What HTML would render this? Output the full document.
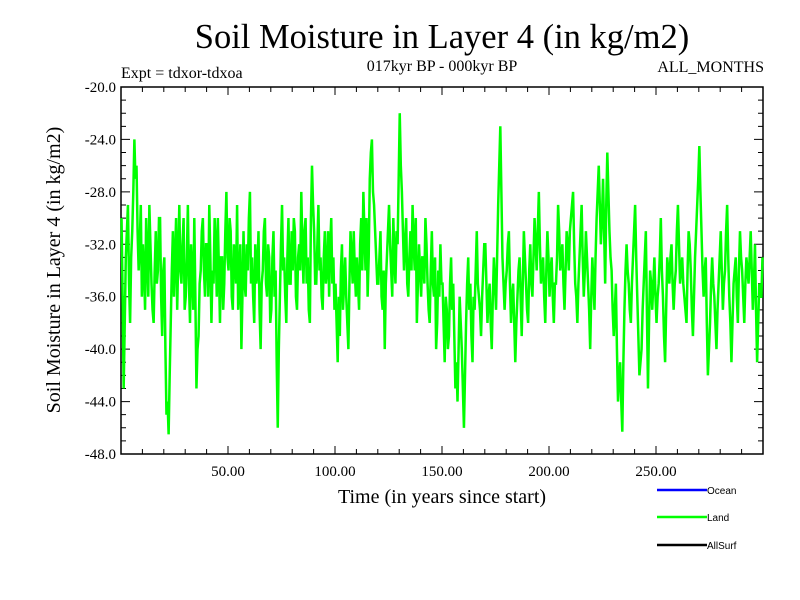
<!DOCTYPE html>
<html><head><meta charset="utf-8"><style>
body{margin:0;background:#fff;width:800px;height:600px;overflow:hidden}
svg{display:block}
.serif{font-family:"Liberation Serif",serif}
.sans{font-family:"Liberation Sans",sans-serif}
</style></head><body>
<svg id="chart" width="800" height="600" viewBox="0 0 800 600" xmlns="http://www.w3.org/2000/svg">
<text class="serif" x="442" y="48" font-size="34.5" text-anchor="middle">Soil Moisture in Layer 4 (in kg/m2)</text>
<text class="serif" x="121" y="78" font-size="16">Expt = tdxor-tdxoa</text>
<text class="serif" x="442" y="71" font-size="16" text-anchor="middle">017kyr BP - 000kyr BP</text>
<text class="serif" x="764" y="72" font-size="16" text-anchor="end">ALL_MONTHS</text>
<text class="serif" font-size="20" text-anchor="middle" transform="translate(60,270) rotate(-90)">Soil Moisture in Layer 4 (in kg/m2)</text>
<text class="serif" x="442" y="503" font-size="20" text-anchor="middle">Time (in years since start)</text>
<g id="axes"></g>
<g id="series"></g>
<g>
<line x1="657" y1="490" x2="707" y2="490" stroke="#0000ff" stroke-width="2.5"/>
<text class="sans" x="707" y="494" font-size="10">Ocean</text>
<line x1="657" y1="517" x2="707" y2="517" stroke="#00ff00" stroke-width="2.5"/>
<text class="sans" x="707" y="521" font-size="10">Land</text>
<line x1="657" y1="545" x2="707" y2="545" stroke="#000" stroke-width="2.5"/>
<text class="sans" x="707" y="549" font-size="10">AllSurf</text>
</g>
</svg>
<script>
const xTickValues=[50,100,150,200,250];
const xTickLabels=["50.00","100.00","150.00","200.00","250.00"];
const yTickValues=[-20,-24,-28,-32,-36,-40,-44,-48];
const yTickLabels=["-20.0","-24.0","-28.0","-32.0","-36.0","-40.0","-44.0","-48.0"];
// values at start of each year
const landValuesA=[
-30,-43,-33,-29,-38,-31,-24,-26,-34,-29,
-32,-37,-33,-29,-35,-38,-31,-34,-30,-39,
-33,-45,-46.5,-38,-31,-33,-37,-29,-35,-30,
-36,-29,-38,-34,-30,-43,-39,-34,-30,-36,
-32,-29,-38,-35,-32,-30,-38,-33,-35,-28,
-34,-31,-37,-33,-29,-35,-40,-31,-36,-34,
-28,-33,-38,-35,-31,-40,-34,-30,-36,-33,
-37,-31,-34,-46,-36,-29,-33,-38,-30,-35,
-34,-31,-37,-32,-28,-35,-30,-33,-38,-26,
-31,-35,-29,-33,-37,-31,-34,-36,-30,-33,
-35,-41,-39,-32,-35,-36,-40,-31,-35,-34,
-33,-37,-30,-28,-34,-36,-27,-24,-29,-33,
-35,-31,-37,-40,-33,-29,-34,-30,-35,-32,
-22,-28,-34,-30,-36,-31,-29,-34,-38,-32,
-36,-33,-30,-35,-38,-31,-36,-40,-34,-32,
-35,-41,-37,-39,-33,-35,-43,-44,-36,-40,
-46,-38,-33,-35,-41,-37,-31,-36,-39,-34,
-32,-38,-35,-40,-33,-37,-29,-23,-33,-37,
-34,-31,-38,-35,-41,-36,-33,-39,-31,-35,
-38,-32,-36,-30,-34,-28,-35,-33,-38,-31,
-36,-33,-38,-35,-29,-34,-32,-37,-31,-34,
-30,-28,-35,-38,-33,-29,-36,-31,-35,-40,
-33,-37,-30,-26,-32,-27,-35,-25,-31,-34,
-39,-35,-44,-41,-46.3,-37,-32,-35,-38,-33,
-29,-36,-42,-40,-35,-31,-43,-34,-37,-33,
-38,-35,-30,-36,-41,-33,-35,-32,-37,-34,
-29,-35,-33,-36,-38,-31,-34,-39,-33,-29,
-24.5,-31,-36,-33,-42,-38,-33,-36,-40,-35,
-31,-37,-34,-29,-36,-41,-35,-33,-38,-31,
-34,-38,-33,-35,-31,-37,-32,-41,-35,-36];
// values at mid-year
const landValuesB=[
-36,-38,-31,-35,-33,-28,-27,-31,-32,-36,
-34,-30,-36,-32,-37,-34,-35,-30,-36,-34,
-40,-44,-42,-34,-36,-30,-33,-34,-32,-37,
-33,-35,-32,-37,-36,-40,-35,-31,-34,-32,
-36,-33,-34,-30,-36,-34,-33,-37,-31,-33,
-30,-36,-32,-35,-37,-32,-36,-35,-32,-30,
-35,-36,-32,-34,-37,-35,-31,-35,-32,-38,
-33,-36,-41,-40,-32,-34,-36,-33,-35,-31,
-30,-36,-33,-34,-32,-31,-35,-37,-30,-29,
-35,-32,-34,-36,-33,-35,-31,-32,-35,-37,
-38,-36,-34,-37,-33,-38,-35,-33,-31,-36,
-35,-32,-34,-31,-30,-33,-25,-28,-31,-35,
-33,-36,-34,-35,-31,-32,-36,-33,-31,-27,
-26,-31,-32,-35,-33,-34,-32,-30,-35,-34,
-33,-35,-32,-37,-34,-35,-33,-38,-36,-35,
-38,-36,-40,-35,-37,-39,-41,-40,-38,-43,
-42,-35,-37,-39,-36,-34,-35,-37,-36,-32,
-35,-36,-38,-36,-35,-33,-26,-28,-35,-35,
-32,-35,-36,-38,-38,-34,-36,-35,-33,-37,
-34,-35,-33,-32,-31,-32,-34,-36,-34,-33,
-34,-36,-35,-33,-31,-33,-35,-34,-32,-31,
-29,-32,-36,-35,-31,-33,-34,-33,-37,-36,
-35,-33,-28,-29,-30,-31,-29,-28,-33,-37,
-37,-40,-42,-44,-41,-34,-34,-37,-35,-31,
-33,-39,-41,-37,-33,-37,-38,-35,-35,-36,
-36,-33,-34,-39,-37,-34,-33,-35,-35,-31,
-32,-34,-35,-37,-34,-32,-37,-36,-31,-27,
-28,-34,-34,-38,-40,-35,-35,-38,-37,-33,
-34,-35,-31,-33,-38,-38,-34,-36,-34,-33,
-36,-35,-34,-33,-34,-35,-37,-38,-36,-33];
const X0=121,X1=763,Y0=87,Y1=454;
const xMin=0,xMax=300,yMin=-48,yMax=-20;
function xs(v){return X0+(v-xMin)/(xMax-xMin)*(X1-X0);}
function ys(v){return Y1-(v-yMin)/(yMax-yMin)*(Y1-Y0);}
const NS="http://www.w3.org/2000/svg";
const axes=document.getElementById('axes');
function mk(tag,attrs,parent){const e=document.createElementNS(NS,tag);for(const k in attrs)e.setAttribute(k,attrs[k]);parent.appendChild(e);return e;}
const frame=mk('rect',{x:X0,y:Y0,width:X1-X0,height:Y1-Y0,fill:'none',stroke:'#000','stroke-width':1.5},axes);


for(let v=10;v<xMax;v+=10){
 const major=v%50===0,L=major?8:5,x=xs(v);
 const t=mk('path',{d:`M${x},${Y1}v${-L}M${x},${Y0}v${L}`,stroke:'#000','stroke-width':1},axes);
 
 
}
for(let v=yMin+1;v<yMax;v+=1){
 const major=(v-yMin)%4===0,L=major?9:5,y=ys(v);
 const t=mk('path',{d:`M${X0},${y}h${L}M${X1},${y}h${-L}`,stroke:'#000','stroke-width':1},axes);
 
 
}
xTickValues.forEach((v,i)=>{
 const t=mk('text',{x:xs(v),y:Y1+22,'font-size':15,'text-anchor':'middle',class:'serif'},axes);
 t.textContent=xTickLabels[i];
 
 
});
yTickValues.forEach((v,i)=>{
 const t=mk('text',{x:X0-5,y:ys(v)+5,'font-size':15,'text-anchor':'end',class:'serif'},axes);
 t.textContent=yTickLabels[i];
 
 
});
const pts=[];
landValuesA.forEach((v,i)=>{
 pts.push([i+0.25,v]);
 if(i<landValuesB.length)pts.push([i+0.75,landValuesB[i]]);
});
const d=pts.map((p,i)=>(i?'L':'M')+xs(p[0]).toFixed(2)+','+ys(p[1]).toFixed(2)).join('');
const line=mk('path',{d:d,fill:'none',stroke:'#00ff00','stroke-width':2.5,'stroke-linejoin':'miter'},document.getElementById('series'));


</script>
</body></html>
